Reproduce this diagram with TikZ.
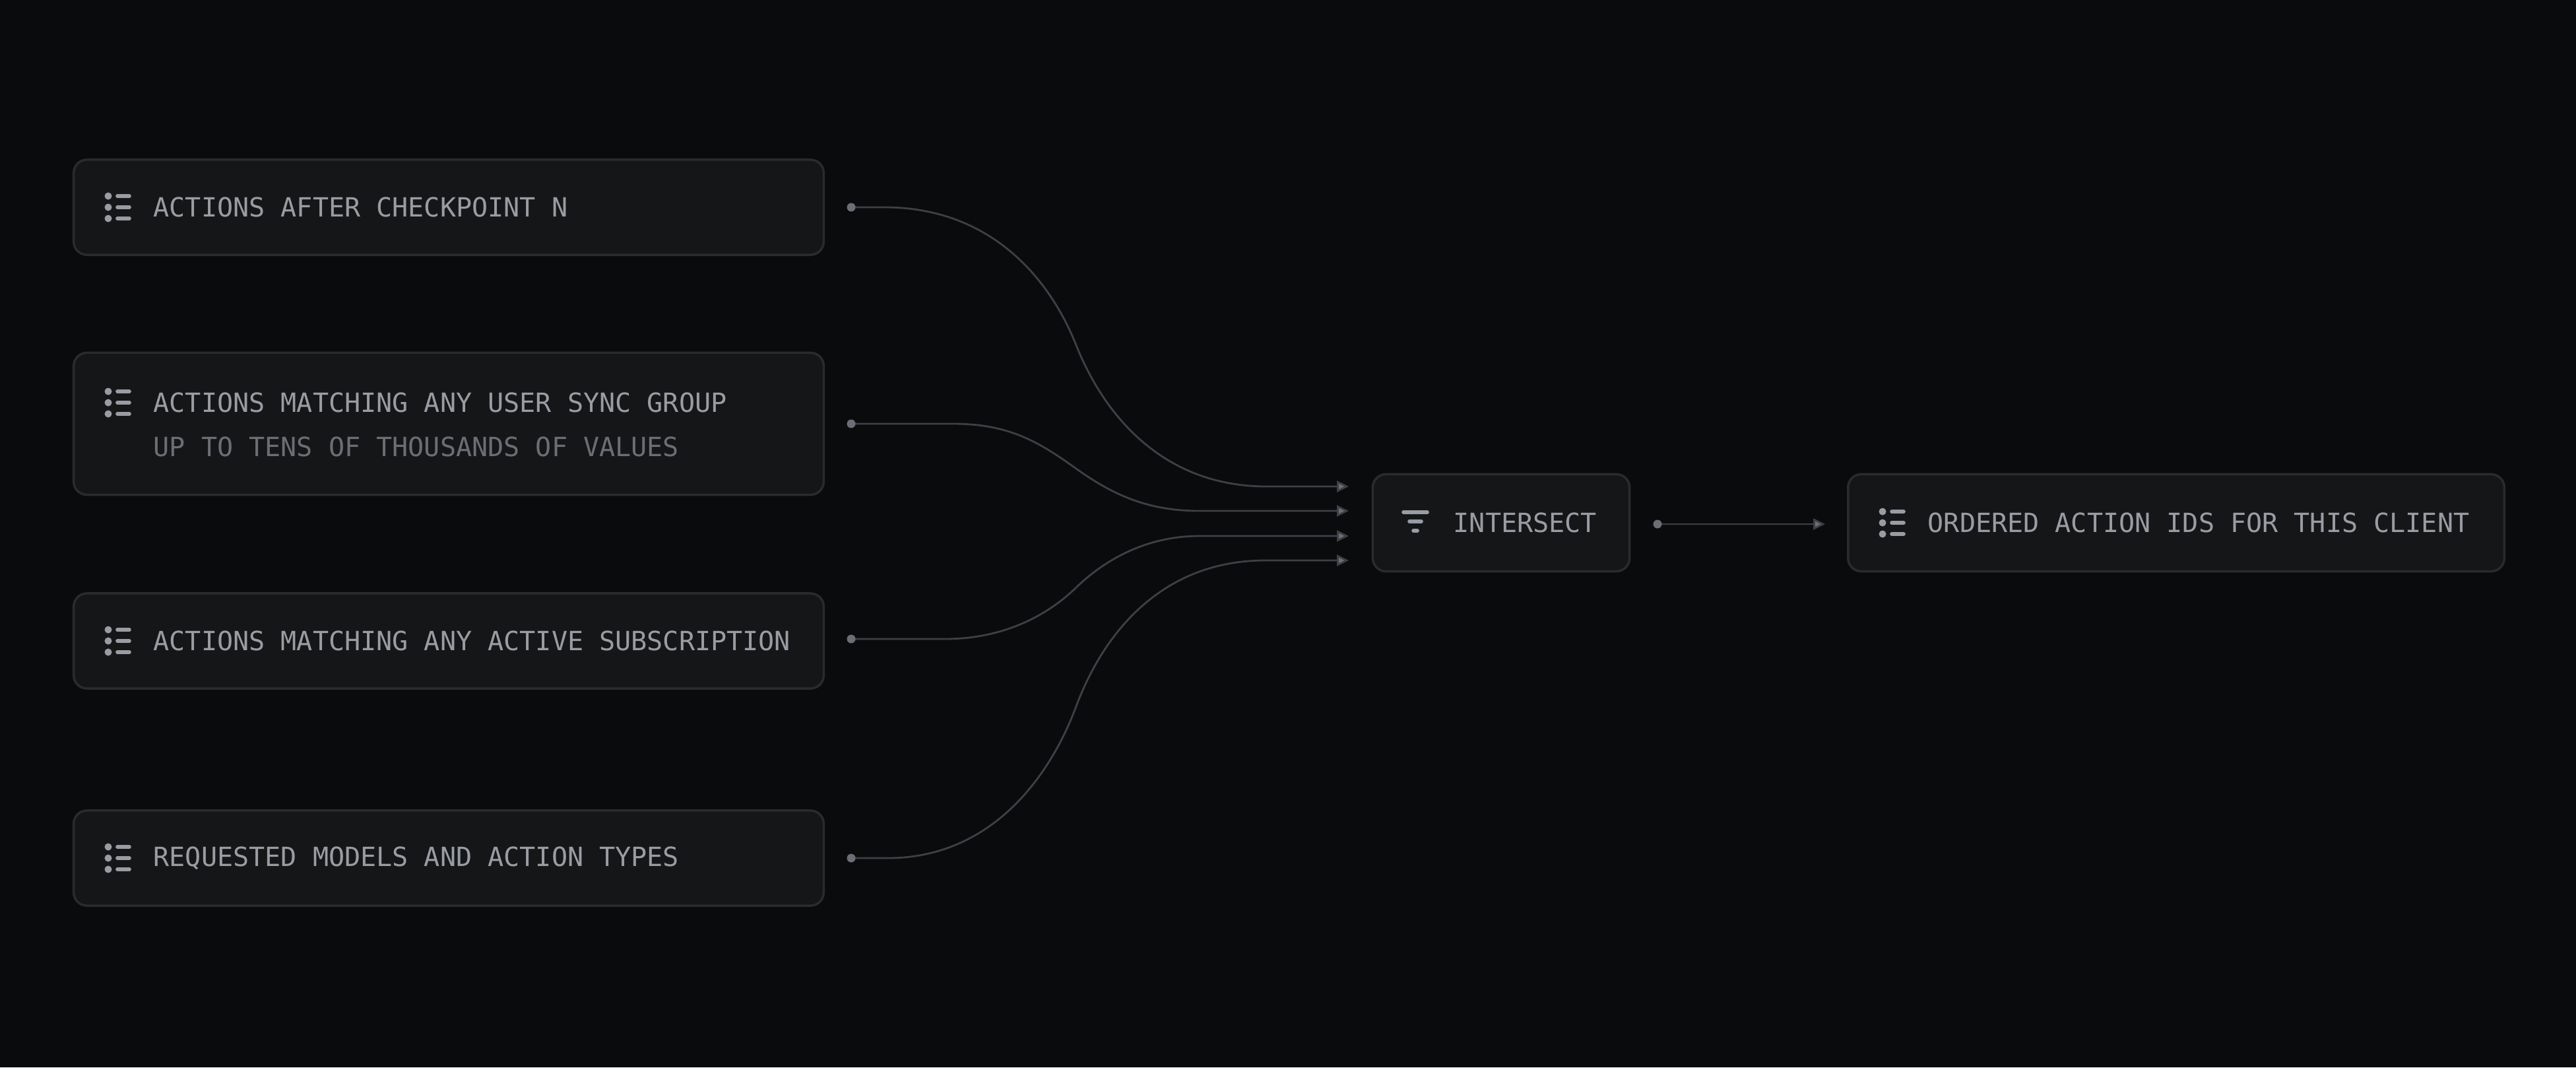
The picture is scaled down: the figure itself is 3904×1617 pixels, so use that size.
\documentclass[tikz,border=0pt]{standalone}
\usepackage{fontspec}
\setmonofont{DejaVu Sans Mono}
\usetikzlibrary{arrows.meta,calc}
\definecolor{bg}{HTML}{0A0B0D}
\definecolor{boxfill}{HTML}{151618}
\definecolor{boxline}{HTML}{2A2B2F}
\definecolor{txt}{HTML}{9A9CA3}
\definecolor{subtxt}{HTML}{6B6E74}
\definecolor{wire}{HTML}{3E4046}
\definecolor{dotc}{HTML}{6B6E74}
\begin{document}
\begin{tikzpicture}[x=0.01cm,y=-0.01cm,
  box/.style={draw=boxline,fill=boxfill,line width=1pt,rounded corners=0.2cm,inner sep=0pt},
  lbl/.style={anchor=west,inner sep=0pt,text=txt,font=\ttfamily\fontsize{11.4}{12}\selectfont},
  sub/.style={lbl,text=subtxt},
  wirest/.style={draw=wire,line width=0.8pt},
  arr/.style={wirest,-{Triangle[length=0.18cm,width=0.17cm,fill=dotc]}},
  dot/.style={circle,fill=dotc,inner sep=0pt,minimum size=0.13cm}]
\fill[bg] (0,0) rectangle (3904,1617);
\useasboundingbox (0,0) rectangle (3904,1617);
\newcommand{\listicon}[1]{%
  \foreach \dy in {-17,0,17}{
    \fill[txt] ($(#1)+(-68,\dy)$) circle (0.055cm);
    \draw[txt,line width=1.6pt,line cap=round] ($(#1)+(-54,\dy)$) -- ($(#1)+(-36,\dy)$);}}
% boxes
\node[box,minimum width=11.36cm,minimum height=1.44cm] (b1) at (680,314) {};
\node[box,minimum width=11.36cm,minimum height=2.15cm] (b2) at (680,642) {};
\node[box,minimum width=11.36cm,minimum height=1.44cm] (b3) at (680,971) {};
\node[box,minimum width=11.36cm,minimum height=1.44cm] (b4) at (680,1300) {};
\node[box,minimum width=3.89cm,minimum height=1.47cm] (ix) at (2275,792) {};
\node[box,minimum width=9.94cm,minimum height=1.47cm] (res) at (3298,792) {};
% labels
\node[lbl] (t1) at (232,314) {ACTIONS AFTER CHECKPOINT N};
\node[lbl] (t2) at (232,610) {ACTIONS MATCHING ANY USER SYNC GROUP};
\node[sub] (t2s) at (232,677) {UP TO TENS OF THOUSANDS OF VALUES};
\node[lbl] (t3) at (232,971) {ACTIONS MATCHING ANY ACTIVE SUBSCRIPTION};
\node[lbl] (t4) at (232,1300) {REQUESTED MODELS AND ACTION TYPES};
\node[lbl] (tix) at (2202,792) {INTERSECT};
\node[lbl] (tres) at (2921,792) {ORDERED ACTION IDS FOR THIS CLIENT};
% icons
\coordinate (i1) at (232,314);\coordinate (i2) at (232,610);
\coordinate (i3) at (232,971);\coordinate (i4) at (232,1300);
\coordinate (i5) at (2921,792);
\listicon{i1}\listicon{i2}\listicon{i3}\listicon{i4}\listicon{i5}
\draw[txt,line width=1.6pt,line cap=round] (2127,776) -- (2163,776);
\draw[txt,line width=1.6pt,line cap=round] (2136,790) -- (2154,790);
\draw[txt,line width=1.6pt,line cap=round] (2142,804) -- (2148,804);
% connector points
\coordinate (s1) at (1290,314);\coordinate (s2) at (1290,642);
\coordinate (s3) at (1290,968);\coordinate (s4) at (1290,1300);
\coordinate (e1) at (2044,737);\coordinate (e2) at (2044,774);
\coordinate (e3) at (2044,812);\coordinate (e4) at (2044,849);
\coordinate (so) at (2512,794);\coordinate (eo) at (2766,794);
\draw[arr] (s1) -- (1340,314) .. controls (1500,314) and (1590,420) .. (1631,523)
  .. controls (1672,626) and (1760,737) .. (1920,737) -- (e1);
\draw[arr] (s2) -- (1444,642) .. controls (1530,642) and (1575,670) .. (1631,710)
  .. controls (1687,750) and (1740,774) .. (1818,774) -- (e2);
\draw[arr] (s3) -- (1432,968) .. controls (1530,968) and (1595,925) .. (1631,890)
  .. controls (1667,855) and (1730,812) .. (1818,812) -- (e3);
\draw[arr] (s4) -- (1345,1300) .. controls (1500,1300) and (1590,1180) .. (1631,1070)
  .. controls (1672,960) and (1760,849) .. (1918,849) -- (e4);
\draw[arr] (so) -- (eo);
\foreach \p in {s1,s2,s3,s4,so} \node[dot] at (\p) {};
\end{tikzpicture}
\end{document}
